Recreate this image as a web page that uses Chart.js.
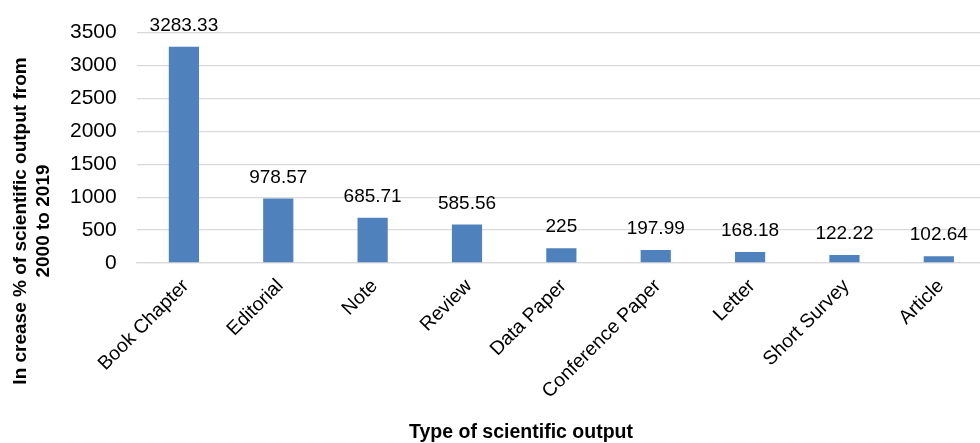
<!DOCTYPE html>
<html>
<head>
<meta charset="utf-8">
<script src="https://cdn.jsdelivr.net/npm/chart.js@4"></script>
<style>
  html, body { margin: 0; padding: 0; background: #fff; overflow: hidden; }
  #wrap { width: 986px; height: 443px; }
</style>
</head>
<body>
<div id="wrap"><canvas id="chart"></canvas></div>
<script>
// chart data
const categories = ['Book Chapter', 'Editorial', 'Note', 'Review', 'Data Paper',
                    'Conference Paper', 'Letter', 'Short Survey', 'Article'];
const increasePct = [3283.33, 978.57, 685.71, 585.56, 225, 197.99, 168.18, 122.22, 102.64];
const valueLabels = ['3283.33', '978.57', '685.71', '585.56', '225', '197.99', '168.18', '122.22', '102.64'];
const yTicks = [0, 500, 1000, 1500, 2000, 2500, 3000, 3500];

const FONT = '"Liberation Sans", Arial, sans-serif';

// value labels, rotated category labels and axis titles
const labelsPlugin = {
    id: 'labelsPlugin',
    afterDatasetsDraw(chart) {
        const ctx = chart.ctx;
        const meta = chart.getDatasetMeta(0);
        const xScale = chart.scales.x;
        const bottom = chart.chartArea.bottom;
        ctx.save();
        ctx.fillStyle = '#000';
        ctx.font = '19px ' + FONT;
        ctx.textAlign = 'center';
        ctx.textBaseline = 'middle';
        meta.data.forEach((bar, i) => {
            ctx.fillText(valueLabels[i], bar.x, bar.y - 21);
        });

        // category labels at -45 degrees
        ctx.font = '19.5px ' + FONT;
        ctx.textAlign = 'right';
        categories.forEach((c, i) => {
            const x = xScale.getPixelForValue(i);
            ctx.save();
            ctx.translate(x + 2, bottom + 20);
            ctx.rotate(-Math.PI / 4);
            ctx.fillText(c, 0, 0);
            ctx.restore();
        });

        ctx.textAlign = 'center';
        ctx.font = 'bold 19.5px ' + FONT;
        ctx.fillText('Type of scientific output', 521, 433);

        ctx.font = 'bold 19px ' + FONT;
        ctx.translate(21, 221);
        ctx.rotate(-Math.PI / 2);
        ctx.fillText('In crease % of scientific output from', 0, 0);
        ctx.fillText('2000 to 2019', 0, 23);
        ctx.restore();
    }
};

new Chart(document.getElementById('chart'), {
    type: 'bar',
    data: {
        labels: categories,
        datasets: [{
            data: increasePct,
            backgroundColor: '#4F81BD',
            categoryPercentage: 1,
            barPercentage: 0.32
        }]
    },
    options: {
        responsive: true,
        maintainAspectRatio: false,
        animation: false,
        layout: { padding: { left: 50, right: 0, top: 28, bottom: 0 } },
        plugins: {
            legend: { display: false },
            tooltip: { enabled: false }
        },
        scales: {
            x: {
                grid: { display: false },
                border: { color: '#D9D9D9', width: 1.3 },
                ticks: { display: false },
                afterFit(axis) { axis.height = 180; }
            },
            y: {
                min: 0,
                max: 3500,
                afterBuildTicks(axis) {
                    axis.ticks = yTicks.map(v => ({ value: v }));
                },
                grid: { color: '#D9D9D9', lineWidth: 1.3, drawTicks: false },
                border: { display: false },
                ticks: {
                    color: '#000',
                    font: { family: FONT, size: 21 },
                    padding: 20,
                    callback: v => String(v)
                }
            }
        }
    },
    plugins: [labelsPlugin]
});
</script>
</body>
</html>
